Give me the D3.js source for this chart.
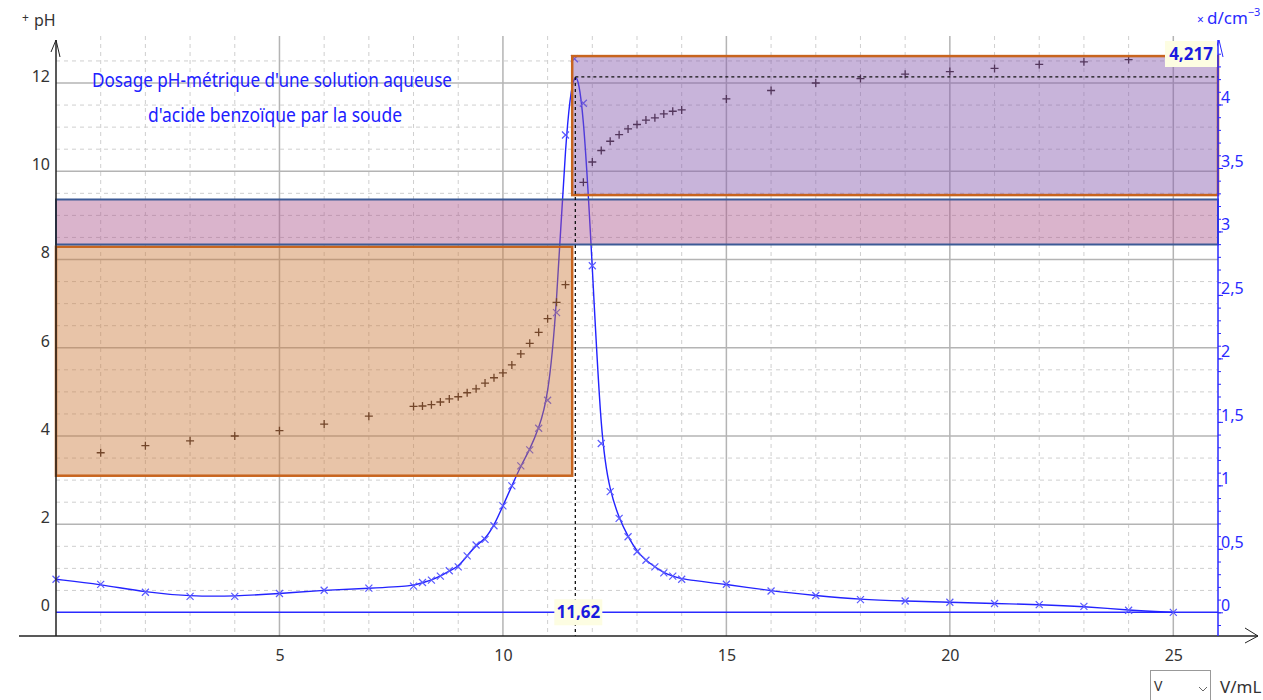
<!DOCTYPE html>
<html>
<head>
<meta charset="utf-8">
<script src="https://cdn.jsdelivr.net/npm/d3@7"></script>
<style>
  body { margin: 0; background: #fff; }
  svg { display: block; font-family: "Noto Sans", "Open Sans", sans-serif; }
</style>
</head>
<body>
<div class="chart"></div>
<script>
// volumes (mL) and pH readings
const phV = [1, 2, 3, 4, 5, 6, 7, 8, 8.2, 8.4, 8.6, 8.8, 9, 9.2, 9.4, 9.6, 9.8, 10, 10.2, 10.4, 10.6, 10.8, 11, 11.2, 11.4,
             11.8, 12, 12.2, 12.4, 12.6, 12.8, 13, 13.2, 13.4, 13.6, 13.8, 14, 15, 16, 17, 18, 19, 20, 21, 22, 23, 24];
const phVal = [3.62, 3.78, 3.89, 4.0, 4.12, 4.27, 4.45, 4.67, 4.68, 4.71, 4.77, 4.84, 4.89, 4.98, 5.07, 5.2, 5.32, 5.43, 5.61, 5.86, 6.1, 6.35, 6.66, 7.03, 7.43,
               9.75, 10.21, 10.47, 10.68, 10.83, 10.96, 11.06, 11.16, 11.21, 11.3, 11.36, 11.39, 11.64, 11.83, 12.0, 12.1, 12.2, 12.26, 12.33, 12.42, 12.48, 12.53];

// derivative d = dpH/dV
const dV = [0, 1, 2, 3, 4, 5, 6, 7, 8, 8.2, 8.4, 8.6, 8.8, 9, 9.2, 9.4, 9.6, 9.8, 10, 10.2, 10.4, 10.6, 10.8, 11, 11.2, 11.4, 11.6, 11.8,
            12, 12.2, 12.4, 12.6, 12.8, 13, 13.2, 13.4, 13.6, 13.8, 14, 15, 16, 17, 18, 19, 20, 21, 22, 23, 24, 25];
const dVal = [0.26, 0.22, 0.158, 0.126, 0.126, 0.148, 0.174, 0.19, 0.206, 0.235, 0.253, 0.285, 0.327, 0.358, 0.445, 0.53, 0.575, 0.682, 0.838, 0.996, 1.154, 1.28, 1.45, 1.67, 2.36, 3.76, 4.36, 4.01,
              2.73, 1.33, 0.95, 0.74, 0.595, 0.477, 0.41, 0.358, 0.31, 0.285, 0.26, 0.221, 0.168, 0.132, 0.10, 0.089, 0.079, 0.069, 0.061, 0.047, 0.016, 0];

// zones drawn on the graph: [v0, v1, pH0, pH1]
const zoneNames = ['acide', 'virage', 'base'];
const zoneBounds = [[0, 11.55, 3.10, 8.29], [0, 26, 8.34, 9.36], [11.55, 26, 9.46, 12.61]];

const eqV = 11.62, eqD = 4.217;
const xTicks = [5, 10, 15, 20, 25];
const phTicks = [0, 2, 4, 6, 8, 10, 12];
const dTicks = [0, 0.5, 1, 1.5, 2, 2.5, 3, 3.5, 4];

const w = 1263, h = 700;
const padL = 56, padR = 1218, axisY = 636, axisTop = 40;

const x = d3.scaleLinear().domain([0, 26]).range([padL, padR]);
const yPH = d3.scaleLinear().domain([0, 12]).range([612.5, 83]);
const yD = d3.scaleLinear().domain([0, 4]).range([612.3, 104.5]);
const comma = d => String(d).replace('.', ',');

const svg = d3.select('div.chart').append('svg').attr('width', w).attr('height', h);

// grid
const grid = svg.append('g');
grid.selectAll('line.vx').data(d3.range(1, 26)).enter().append('line')
  .attr('x1', d => x(d)).attr('x2', d => x(d)).attr('y1', 36).attr('y2', axisY)
  .attr('stroke', d => d % 5 === 0 ? '#b4b4b4' : '#cfcfcf')
  .attr('stroke-width', d => d % 5 === 0 ? 1.5 : 1)
  .attr('stroke-dasharray', d => d % 5 === 0 ? null : '4,4');
grid.selectAll('line.hy').data(d3.range(0.5, 12.6, 0.5)).enter().append('line')
  .attr('x1', padL).attr('x2', padR).attr('y1', d => yPH(d)).attr('y2', d => yPH(d))
  .attr('stroke', d => d % 2 === 0 ? '#b4b4b4' : '#cfcfcf')
  .attr('stroke-width', d => d % 2 === 0 ? 1.5 : 1)
  .attr('stroke-dasharray', d => d % 2 === 0 ? null : '4,4');

// zero line of d
svg.append('line').attr('x1', padL).attr('x2', padR).attr('y1', yD(0)).attr('y2', yD(0))
  .attr('stroke', '#2a2aff').attr('stroke-width', 1.5);

// derivative curve
const dPts = dV.map((v, i) => [v, dVal[i]]);
svg.append('path').datum(dPts)
  .attr('fill', 'none').attr('stroke', '#2323ff').attr('stroke-width', 1.4)
  .attr('d', d3.line().x(d => x(d[0])).y(d => yD(d[1])).curve(d3.curveBasis));
svg.append('g').selectAll('path').data(dPts).enter().append('path')
  .attr('transform', d => `translate(${x(d[0])},${yD(d[1])})`)
  .attr('d', 'M-3.5,-3.5L3.5,3.5M-3.5,3.5L3.5,-3.5')
  .attr('stroke', '#5a5aff').attr('stroke-width', 1.2);

// pH points
svg.append('g').selectAll('path').data(phV.map((v, i) => [v, phVal[i]])).enter().append('path')
  .attr('transform', d => `translate(${x(d[0])},${yPH(d[1])})`)
  .attr('d', 'M-4,0H4M0,-4V4')
  .attr('stroke', '#2a1a1a').attr('stroke-width', 1.3);

// zones
const zoneFill = ['rgba(204,124,62,0.45)', 'rgba(173,88,142,0.45)', 'rgba(133,88,173,0.45)'];
const zoneStroke = ['#c8641e', '#3c5a96', '#c8641e'];
svg.append('g').selectAll('rect').data(zoneBounds).enter().append('rect')
  .attr('x', d => x(d[0])).attr('width', d => x(d[1]) - x(d[0]))
  .attr('y', d => yPH(d[3])).attr('height', d => yPH(d[2]) - yPH(d[3]))
  .attr('fill', (d, i) => zoneFill[i]).attr('stroke', (d, i) => zoneStroke[i])
  .attr('stroke-width', (d, i) => i === 1 ? 2 : 2.5)
  .attr('class', (d, i) => zoneNames[i]);

// equivalence marks
svg.append('line').attr('x1', x(eqV)).attr('x2', x(eqV)).attr('y1', yD(eqD)).attr('y2', axisY)
  .attr('stroke', '#111').attr('stroke-width', 1.3).attr('stroke-dasharray', '3,3');
svg.append('line').attr('x1', x(eqV)).attr('x2', padR).attr('y1', yD(eqD)).attr('y2', yD(eqD))
  .attr('stroke', '#111').attr('stroke-width', 1.3).attr('stroke-dasharray', '3,3');

// axes
const xAxis = d3.axisBottom(x).tickValues(xTicks).tickSize(0).tickPadding(14);
const gx = svg.append('g').attr('transform', `translate(0,${axisY})`).call(xAxis);
gx.select('.domain').remove();
gx.selectAll('text').attr('font-size', 16).attr('fill', '#333').attr('font-family', 'Noto Sans');
svg.append('line').attr('x1', 19).attr('x2', 1258).attr('y1', axisY).attr('y2', axisY)
  .attr('stroke', '#222').attr('stroke-width', 1.5);
svg.append('path').attr('d', `M1245,628L1258,${axisY}L1245,643`).attr('fill', 'none').attr('stroke', '#222');

const yAxisL = d3.axisLeft(yPH).tickValues(phTicks).tickSize(0).tickPadding(6);
const gl = svg.append('g').attr('transform', `translate(${padL},0)`).call(yAxisL);
gl.select('.domain').remove();
gl.selectAll('text').attr('font-size', 16).attr('fill', '#333').attr('dy', '-0.1em').attr('font-family', 'Noto Sans');
svg.append('line').attr('x1', padL).attr('x2', padL).attr('y1', axisTop).attr('y2', axisY)
  .attr('stroke', '#222').attr('stroke-width', 1.5);
svg.append('path').attr('d', `M51,52L${padL},${axisTop}L60,57`).attr('fill', 'none').attr('stroke', '#222');

const yAxisR = d3.axisRight(yD).tickValues(dTicks).tickSize(5).tickPadding(-2).tickFormat(comma);
const gr = svg.append('g').attr('transform', `translate(${padR},0)`).call(yAxisR);
gr.select('.domain').remove();
gr.selectAll('line').attr('stroke', '#2a2aff');
gr.selectAll('text').attr('font-size', 16).attr('fill', '#2a2aff').attr('dy', '-0.1em').attr('font-family', 'Noto Sans');
const grm = svg.append('g').attr('transform', `translate(${padR},0)`)
  .call(d3.axisRight(yD).tickValues(d3.range(-0.1, 4.45, 0.1)).tickSize(3).tickFormat(''));
grm.select('.domain').remove();
grm.selectAll('line').attr('stroke', '#2a2aff');
svg.append('line').attr('x1', padR).attr('x2', padR).attr('y1', axisTop).attr('y2', axisY)
  .attr('stroke', '#2a2aff').attr('stroke-width', 1.5);
svg.append('path').attr('d', `M1214,54L${padR + 1},${axisTop}L1223,57`).attr('fill', 'none').attr('stroke', '#2a2aff');

// axis names
svg.append('text').attr('x', 22).attr('y', 22).attr('font-size', 12).attr('fill', '#333').text('+');
svg.append('text').attr('x', 34).attr('y', 26).attr('font-size', 16).attr('fill', '#333').text('pH');
const dn = svg.append('text').attr('x', 1197).attr('y', 24).attr('fill', '#2a2aff');
dn.append('tspan').attr('font-size', 12).text('× ');
dn.append('tspan').attr('font-size', 17).text('d/cm');
dn.append('tspan').attr('font-size', 11).attr('dy', -8).text('−3');
svg.append('text').attr('x', 1220).attr('y', 693).attr('font-size', 17).attr('fill', '#333').text('V/mL');

// selector box
svg.append('rect').attr('x', 1150.5).attr('y', 670.5).attr('width', 60).attr('height', 30)
  .attr('fill', '#fff').attr('stroke', '#999');
svg.append('text').attr('x', 1154).attr('y', 691).attr('font-size', 14).attr('fill', '#333').text('V');
svg.append('path').attr('d', 'M1199,687L1203,691L1207,687').attr('fill', 'none').attr('stroke', '#666');

// title
svg.append('text').attr('x', 92).attr('y', 87).attr('font-size', 19).attr('fill', '#2020ff')
  .attr('textLength', 360).attr('lengthAdjust', 'spacingAndGlyphs')
  .text("Dosage pH-métrique d'une solution aqueuse");
svg.append('text').attr('x', 148).attr('y', 122).attr('font-size', 19).attr('fill', '#2020ff')
  .attr('textLength', 254).attr('lengthAdjust', 'spacingAndGlyphs')
  .text("d'acide benzoïque par la soude");

// value tags
function tag(cx, cy, bw, label) {
  svg.append('rect').attr('x', cx - bw / 2).attr('y', cy - 13).attr('width', bw).attr('height', 26)
    .attr('fill', '#fdfde2');
  svg.append('text').attr('x', cx).attr('y', cy).attr('dy', '0.35em').attr('text-anchor', 'middle')
    .attr('font-size', 17).attr('font-weight', 'bold').attr('fill', '#1a1ae0').text(label);
}
tag(x(eqV) + 3, yD(0), 48, comma(eqV));
tag(1191, 54, 52, comma(eqD));
</script>
</body>
</html>
